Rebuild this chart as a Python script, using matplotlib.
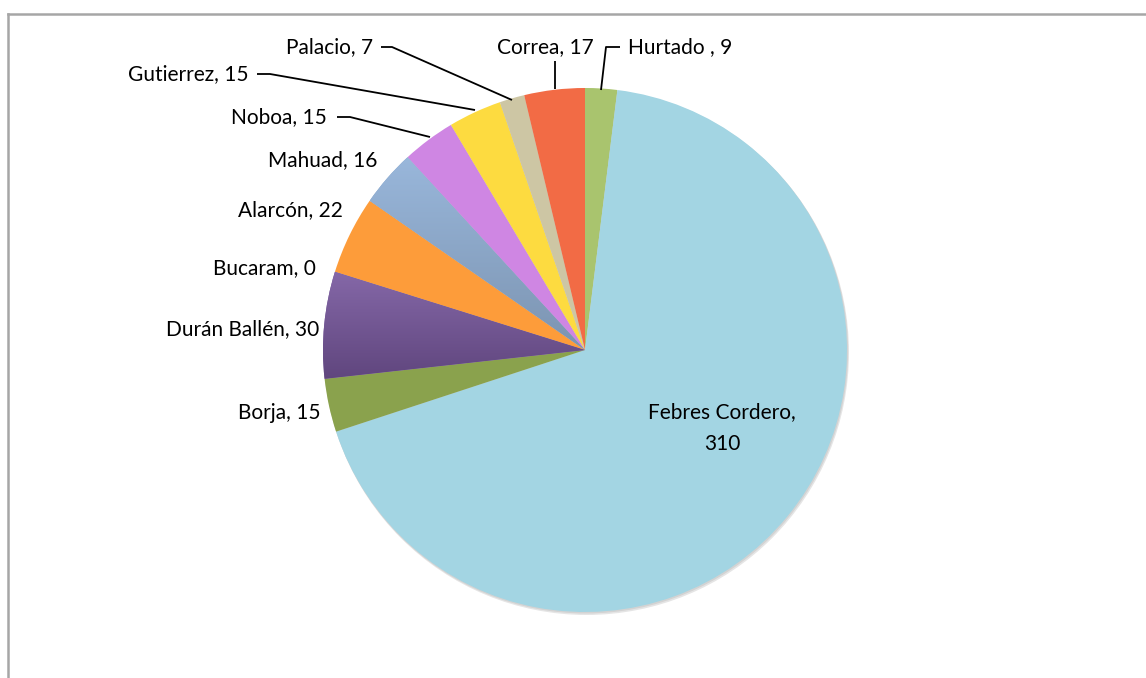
import numpy as np
import matplotlib
matplotlib.use("Agg")
import matplotlib.pyplot as plt
from matplotlib.patches import Circle
from matplotlib.lines import Line2D

# ---- data ----
names = ["Hurtado ", "Febres Cordero", "Borja", "Durán Ballén", "Bucaram",
         "Alarcón", "Mahuad", "Noboa", "Gutierrez", "Palacio", "Correa"]
values = [9, 310, 15, 30, 0, 22, 16, 15, 15, 7, 17]
colors = ["#a9c46e", "#a3d5e3", "#8aa24d", "#76599a", "#cccccc",
          "#fd9c3a", "#8ca9cc", "#cf86e3", "#fddb40", "#cdc6a4", "#f26b45"]
# gradients (top, bottom) for some slices
gradients = {"Durán Ballén": ("#8568a8", "#60467e"),
             "Mahuad": ("#99b7db", "#7c94b1")}

W, H = 1146, 678
fig = plt.figure(figsize=(W / 100, H / 100), dpi=100)
ax = fig.add_axes([0, 0, 1, 1])

plt.rcParams['font.family'] = ['Lato', 'DejaVu Sans']
FS = 15

cx, cy, R = 585, H - 350, 262

# shadow
ax.add_patch(Circle((cx + 1.5, cy - 2.5), R + 0.5, color="#000000", alpha=0.10, lw=0, zorder=0))
ax.add_patch(Circle((cx + 0.8, cy - 1.2), R + 0.3, color="#000000", alpha=0.08, lw=0, zorder=0))

wedges, _ = ax.pie(values, colors=colors, startangle=90, counterclock=False,
                   center=(cx, cy), radius=R, frame=True,
                   wedgeprops=dict(linewidth=0, antialiased=True))
ax.set_xlim(0, W)
ax.set_ylim(0, H)
ax.set_aspect("equal")
ax.axis("off")

for w, n in zip(wedges, names):
    if n in gradients:
        top, bot = gradients[n]
        c1 = np.array(matplotlib.colors.to_rgb(top))
        c2 = np.array(matplotlib.colors.to_rgb(bot))
        t = np.linspace(0, 1, 256)[:, None]
        img = (c1[None, :] * (1 - t) + c2[None, :] * t)[:, None, :]
        # gradient spans the wedge's vertical extent
        bb = w.get_path().get_extents()
        im = ax.imshow(img, extent=(bb.x0, bb.x1, bb.y0, bb.y1), origin="upper",
                       aspect="auto", zorder=w.get_zorder() + 0.1)
        im.set_clip_path(w)
ax.set_xlim(0, W)
ax.set_ylim(0, H)

def P(x, y):
    return (x, H - y)

# labels: (x, y, ha)
label_pos = {
    "Hurtado ": (628, 47, "left"),
    "Correa": (594, 47, "right"),
    "Palacio": (373, 47, "right"),
    "Gutierrez": (249, 74, "right"),
    "Noboa": (327, 117, "right"),
    "Mahuad": (377, 160, "right"),
    "Alarcón": (343, 210, "right"),
    "Bucaram": (316, 268, "right"),
    "Durán Ballén": (319, 329, "right"),
    "Borja": (321, 413, "right"),
}
for n, v in zip(names, values):
    if n in label_pos:
        x, y, ha = label_pos[n]
        ax.text(*P(x, y), f"{n}, {v}", ha=ha, va="center", fontsize=FS, color="#000000", zorder=10)
    else:
        ax.text(*P(722, 428), f"{n},\n{v}", ha="center", va="center", fontsize=FS,
                color="#000000", linespacing=1.7, zorder=10)

# leader lines
leaders = [
    [(601, 90), (606, 47), (620, 47)],
    [(555, 89), (555, 61)],
    [(512, 100), (392, 47), (381, 47)],
    [(475, 110), (270, 74), (257, 74)],
    [(430, 137), (350, 117), (337, 117)],
]
for pts in leaders:
    xs = [p[0] for p in pts]
    ys = [H - p[1] for p in pts]
    ax.plot(xs, ys, color="#000000", lw=1.3, zorder=9, solid_capstyle="butt")

# chart border
fig.add_artist(Line2D([8 / W, 1], [1 - 14 / H, 1 - 14 / H], color="#a6a6a6", lw=1.8))
fig.add_artist(Line2D([8 / W, 8 / W], [1 - 14 / H, 0], color="#a6a6a6", lw=1.8))

fig.savefig("out.png", dpi=100, facecolor="white")
